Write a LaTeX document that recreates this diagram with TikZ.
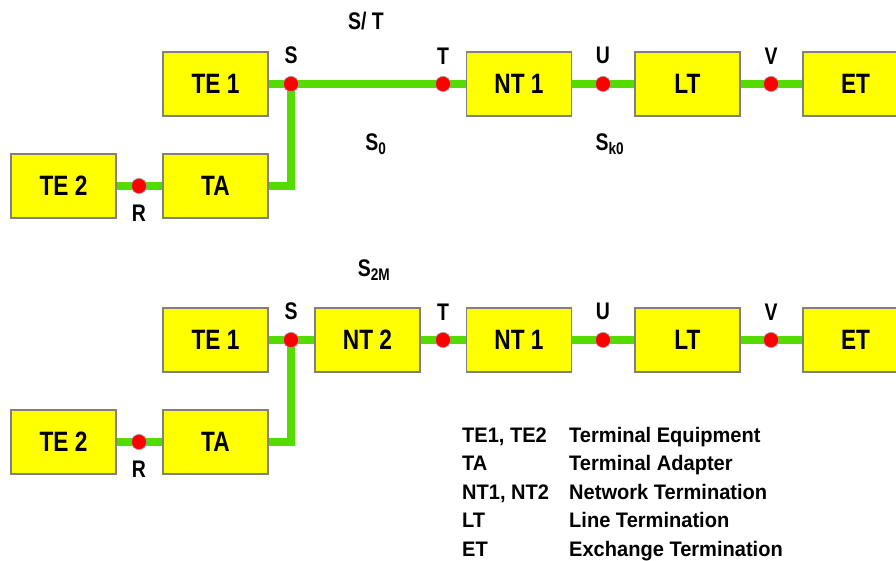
\documentclass[tikz,border=0pt]{standalone}
\usepackage{fontspec}
\setmainfont[FakeStretch=0.81]{Liberation Sans}
\newfontfamily\legendfont[FakeStretch=0.955]{Liberation Sans}
\usepackage{xcolor}
\usepackage{tikz}
\usetikzlibrary{positioning}
\definecolor{wiregreen}{RGB}{84,220,0}
\definecolor{boxyellow}{RGB}{255,255,0}
\tikzset{
  % --- functional groups ----------------------------------------------------
  unit/.style={rectangle,draw=black!50,line width=1.3pt,fill=boxyellow,
               minimum width=105pt,minimum height=64pt,inner sep=0pt,
               font=\fontsize{28}{30}\selectfont\bfseries},
  % --- reference points -----------------------------------------------------
  tap/.style={circle,fill=red,draw=black!35,line width=0.5pt,
              minimum size=15pt,inner sep=0pt},
  wire/.style={wiregreen,line width=7.5pt},
  reflab/.style={font=\fontsize{24}{26}\selectfont\bfseries,inner sep=0pt},
  % --- legend ---------------------------------------------------------------
  legkey/.style={anchor=base west,inner sep=0pt,
                 font=\legendfont\fontsize{21}{24}\selectfont\bfseries},
}

\begin{document}
\begin{tikzpicture}[x=1pt,y=-1pt]
  \useasboundingbox (0,0) rectangle (896,561);

  % upper configuration: S and T coincide (S/T bus)
  \node[unit] (te1a) at (215.5,84) {TE 1};
  \node[unit] (nt1a) at (519,84)   {NT 1};
  \node[unit] (lta)  at (687.5,84) {LT};
  \node[unit] (eta)  at (855.5,84) {ET};
  \node[unit] (te2a) at (63.5,186) {TE 2};
  \node[unit] (taa)  at (215.5,186) {TA};

  \node[tap] (sa) at (291,84)  {};
  \node[tap] (ta) at (443,84)  {};
  \node[tap] (ua) at (603,84)  {};
  \node[tap] (va) at (771,84)  {};
  \node[tap] (ra) at (139,186) {};

  \draw[wire] (te1a.east) -- (nt1a.west);
  \draw[wire] (nt1a.east) -- (lta.west);
  \draw[wire] (lta.east)  -- (eta.west);
  \draw[wire] (te2a.east) -- (taa.west);
  \draw[wire] (sa.center) |- (taa.east);
  \foreach \p in {sa,ta,ua,va,ra} \node[tap] at (\p) {};

  \node[reflab,above=12pt of sa] {S};
  \node[reflab,above=12pt of ta] {T};
  \node[reflab,above=12pt of ua] {U};
  \node[reflab,above=12pt of va] {V};
  \node[reflab,below=11pt of ra] {R};
  \node[reflab] (st)  at (366,21)  {S/ T};
  \node[reflab] (s0)  at (376,144) {S\textsubscript{0}};
  \node[reflab] (sk0) at (610,144) {S\textsubscript{k0}};

  % lower configuration: separate NT 2
  \node[unit] (te1b) at (215.5,340) {TE 1};
  \node[unit] (nt2b) at (367.5,340) {NT 2};
  \node[unit] (nt1b) at (519,340)   {NT 1};
  \node[unit] (ltb)  at (687.5,340) {LT};
  \node[unit] (etb)  at (855.5,340) {ET};
  \node[unit] (te2b) at (63.5,442)  {TE 2};
  \node[unit] (tab)  at (215.5,442) {TA};

  \node[tap] (sb) at (291,340)  {};
  \node[tap] (tb) at (443,340)  {};
  \node[tap] (ub) at (603,340)  {};
  \node[tap] (vb) at (771,340)  {};
  \node[tap] (rb) at (139,442)  {};

  \draw[wire] (te1b.east) -- (nt2b.west);
  \draw[wire] (nt2b.east) -- (nt1b.west);
  \draw[wire] (nt1b.east) -- (ltb.west);
  \draw[wire] (ltb.east)  -- (etb.west);
  \draw[wire] (te2b.east) -- (tab.west);
  \draw[wire] (sb.center) |- (tab.east);
  \foreach \p in {sb,tb,ub,vb,rb} \node[tap] at (\p) {};

  \node[reflab,above=12pt of sb] {S};
  \node[reflab,above=12pt of tb] {T};
  \node[reflab,above=12pt of ub] {U};
  \node[reflab,above=12pt of vb] {V};
  \node[reflab,below=11pt of rb] {R};
  \node[reflab] (s2m) at (374,270) {S\textsubscript{2M}};

  % legend
  \node[legkey] (k1) at (462,442)   {TE1, TE2};
  \node[legkey] (k2) at (462,470.5) {TA};
  \node[legkey] (k3) at (462,499)   {NT1, NT2};
  \node[legkey] (k4) at (462,527.5) {LT};
  \node[legkey] (k5) at (462,556)   {ET};
  \node[legkey] (d1) at (569,442)   {Terminal Equipment};
  \node[legkey] (d2) at (569,470.5) {Terminal Adapter};
  \node[legkey] (d3) at (569,499)   {Network Termination};
  \node[legkey] (d4) at (569,527.5) {Line Termination};
  \node[legkey] (d5) at (569,556)   {Exchange Termination};
\end{tikzpicture}
\end{document}
